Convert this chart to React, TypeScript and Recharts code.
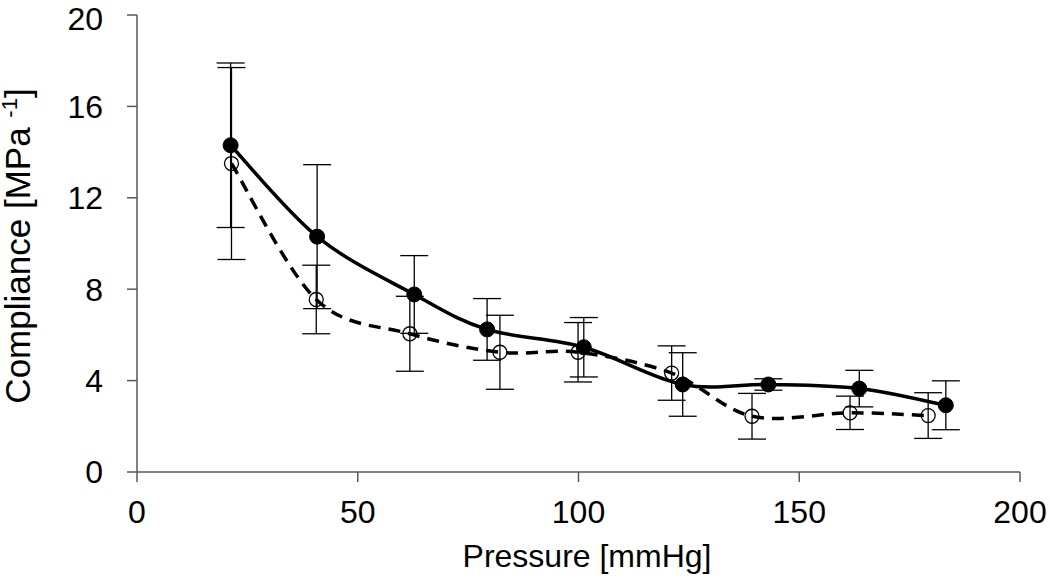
import React from "react"
import { LineChart, Line, XAxis, YAxis, ErrorBar } from "recharts"

const pressureFilled = [21.2, 40.8, 62.8, 79.3, 101.2, 123.6, 143.0, 163.6, 183.2]
const complianceFilled = [14.3, 10.3, 7.77, 6.24, 5.46, 3.83, 3.83, 3.65, 2.92]
const errorFilled = [3.6, 3.15, 1.7, 1.35, 1.3, 1.39, 0.25, 0.8, 1.07]

const pressureOpen = [21.4, 40.6, 61.8, 82.2, 99.9, 121.1, 139.3, 161.5, 179.2]
const complianceOpen = [13.5, 7.55, 6.05, 5.24, 5.24, 4.33, 2.44, 2.59, 2.47]
const errorOpen = [4.2, 1.5, 1.64, 1.62, 1.3, 1.19, 1.0, 0.73, 1.0]

const xTicks = [0, 50, 100, 150, 200]
const yTicks = [0, 4, 8, 12, 16, 20]

const FONT = '"Liberation Sans", Arial, sans-serif'
const AXIS = "#595959"

const filledData = pressureFilled.map((x, i) => ({ x, y: complianceFilled[i], err: errorFilled[i] }))
const openData = pressureOpen.map((x, i) => ({ x, y: complianceOpen[i], err: errorOpen[i] }))

// Excel-style smoothed line (bezier with 1/6 neighbour tangents)
const excelSmooth = (context: any) => {
  let pts: [number, number][] = []
  return {
    areaStart() {},
    areaEnd() {},
    lineStart() {
      pts = []
    },
    lineEnd() {
      if (!pts.length) return
      context.moveTo(pts[0][0], pts[0][1])
      for (let i = 0; i < pts.length - 1; i++) {
        const p0 = pts[Math.max(0, i - 1)]
        const p1 = pts[i]
        const p2 = pts[i + 1]
        const p3 = pts[Math.min(pts.length - 1, i + 2)]
        context.bezierCurveTo(
          p1[0] + (p2[0] - p0[0]) / 6,
          p1[1] + (p2[1] - p0[1]) / 6,
          p2[0] - (p3[0] - p1[0]) / 6,
          p2[1] - (p3[1] - p1[1]) / 6,
          p2[0],
          p2[1]
        )
      }
    },
    point(x: number, y: number) {
      pts.push([x, y])
    },
  }
}

const YTitle = () => (
  <text
    transform="translate(30,246) rotate(-90)"
    textAnchor="middle"
    fontSize={35}
    fontFamily={FONT}
    fill="#000"
  >
    Compliance [MPa <tspan fontSize={22} dy={-13}>-1</tspan>
    <tspan dy={13}>]</tspan>
  </text>
)

const XTitle = () => (
  <text x={587} y={567} textAnchor="middle" fontSize={32} fontFamily={FONT} fill="#000">
    Pressure [mmHg]
  </text>
)

export default function App() {
  return (
    <div style={{ position: "absolute", left: 0, top: 0, background: "#fff" }}>
      <LineChart
        width={1050}
        height={585}
        margin={{ top: 15, right: 30, bottom: 0, left: 0 }}
        style={{ fontFamily: FONT }}
      >
        <XAxis
          dataKey="x"
          type="number"
          domain={[0, 200]}
          ticks={xTicks}
          allowDuplicatedCategory={false}
          height={113}
          tickSize={10}
          tickMargin={18}
          stroke={AXIS}
          strokeWidth={1.5}
          tick={{ fill: "#000", fontSize: 32, fontFamily: FONT }}
          label={{ content: <XTitle /> }}
        />
        <YAxis
          type="number"
          domain={[0, 20]}
          ticks={yTicks}
          width={137}
          tickSize={10}
          tickMargin={24}
          stroke={AXIS}
          strokeWidth={1.5}
          tick={{ fill: "#000", fontSize: 32, fontFamily: FONT }}
          label={{ content: <YTitle /> }}
        />
        <Line
          data={openData}
          dataKey="y"
          type={excelSmooth as any}
          stroke="#000"
          strokeWidth={3.5}
          strokeDasharray="12 8"
          dot={{ r: 7, fill: "none", stroke: "#000", strokeWidth: 1.3, strokeDasharray: "0" }}
          isAnimationActive={false}
        >
          <ErrorBar dataKey="err" direction="y" width={14} stroke="#000" strokeWidth={1.3} />
        </Line>
        <Line
          data={filledData}
          dataKey="y"
          type={excelSmooth as any}
          stroke="#000"
          strokeWidth={3.5}
          dot={{ r: 7.5, fill: "#000", stroke: "#000", strokeWidth: 1 }}
          isAnimationActive={false}
        >
          <ErrorBar dataKey="err" direction="y" width={14} stroke="#000" strokeWidth={1.3} />
        </Line>
      </LineChart>
    </div>
  )
}
